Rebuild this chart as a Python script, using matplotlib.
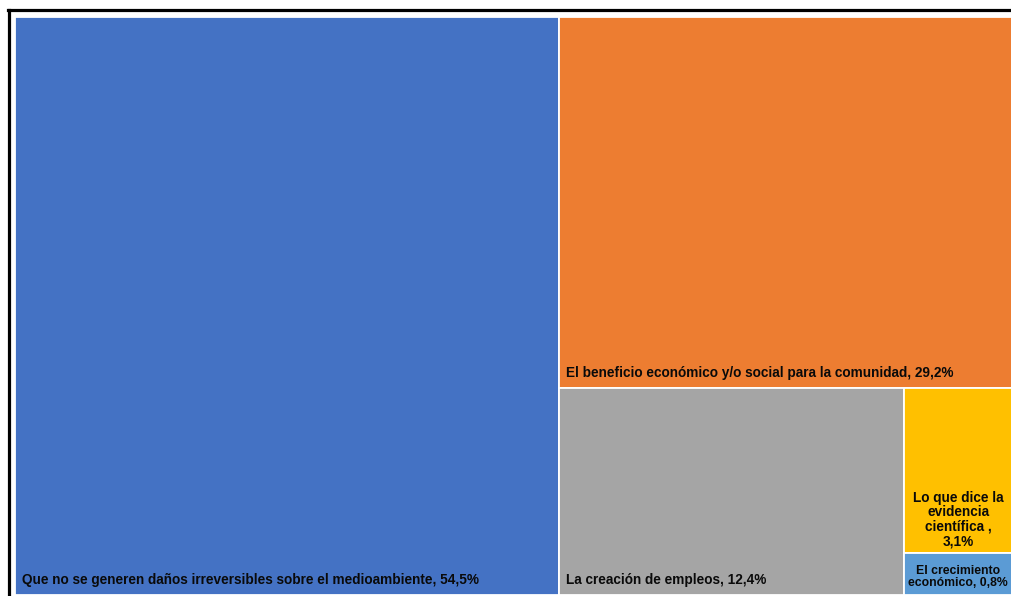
import textwrap
import matplotlib
matplotlib.use("Agg")
import matplotlib.pyplot as plt
from matplotlib.patches import Rectangle
from matplotlib.lines import Line2D

categories = [
    "Que no se generen daños irreversibles sobre el medioambiente",
    "El beneficio económico y/o social para la comunidad",
    "La creación de empleos",
    "Lo que dice la evidencia científica ",
    "El crecimiento económico",
]
values = [54.5, 29.2, 12.4, 3.1, 0.8]
colors = ["#4472C4", "#ED7D31", "#A5A5A5", "#FFC000", "#5B9BD5"]


def worst(row, w):
    s = sum(row)
    return max(max(w * w * r / (s * s), (s * s) / (w * w * r)) for r in row)


def squarify(vals, x, y, dx, dy):
    """vals already scaled to area. Returns list of rects (x, y, w, h)."""
    rects = []
    vals = list(vals)
    while vals:
        short = min(dx, dy)
        row = [vals[0]]
        i = 1
        while i < len(vals) and worst(row + [vals[i]], short) <= worst(row, short):
            row.append(vals[i])
            i += 1
        s = sum(row)
        if dx >= dy:  # column on the left
            w = s / dy
            yy = y
            for r in row:
                h = r / w
                rects.append((x, yy, w, h))
                yy += h
            x += w
            dx -= w
        else:  # row on top
            h = s / dx
            xx = x
            for r in row:
                w = r / h
                rects.append((xx, y, w, h))
                xx += w
            y += h
            dy -= h
        vals = vals[i:]
    return rects


W, H = 1011, 596
fig = plt.figure(figsize=(W / 100, H / 100), dpi=100)

left_px, top_px = 15, 17
AW, AH = 998, 578
ax = fig.add_axes([left_px / W, (H - top_px - AH) / H, AW / W, AH / H])
ax.set_xlim(0, AW)
ax.set_ylim(AH, 0)
ax.axis("off")

total = sum(values)
areas = [v / total * AW * AH for v in values]
rects = squarify(areas, 0, 0, AW, AH)

font = dict(family=["Liberation Sans", "DejaVu Sans"], weight="bold",
            color="#0a0a0a")
renderer = fig.canvas.get_renderer()

for (x, y, w, h), name, v, c in zip(rects, categories, values, colors):
    ax.add_patch(Rectangle((x, y), w, h, facecolor=c, edgecolor="white",
                           linewidth=1.3, clip_on=False))
    label = f"{name}, {v:.1f}".replace(".", ",") + "%"
    if w > 200:
        ax.text(x + 7, y + h - 8, label, ha="left", va="bottom",
                fontsize=9.8, **font)
    else:
        wrapped = "\n".join(textwrap.wrap(label, 15))
        if h > 100:
            ax.text(x + w / 2, y + h - 4, wrapped, ha="center", va="bottom",
                    multialignment="center", linespacing=1.05,
                    fontsize=9.8, **font)
        else:
            t = ax.text(x + w / 2, y + h / 2 + 3, wrapped, ha="center",
                        va="center", multialignment="center",
                        linespacing=0.95, fontsize=9.8, **font)
            # shrink to fit the small box
            fs = 9.8
            visible_w = min(w, W - left_px - x) - 6
            while t.get_window_extent(renderer).width > visible_w and fs > 5:
                fs -= 0.2
                t.set_fontsize(fs)
            t.set_x(x + min(w, W - left_px - x) / 2)

# outer black frame (left and top edges visible)
fig.add_artist(Line2D([8.5 / W, 8.5 / W], [0, 1 - 10 / H],
                      transform=fig.transFigure, color="black", linewidth=2.3))
fig.add_artist(Line2D([7.5 / W, 1], [1 - 10 / H, 1 - 10 / H],
                      transform=fig.transFigure, color="black", linewidth=2.3))

fig.savefig("out.png", dpi=100)
